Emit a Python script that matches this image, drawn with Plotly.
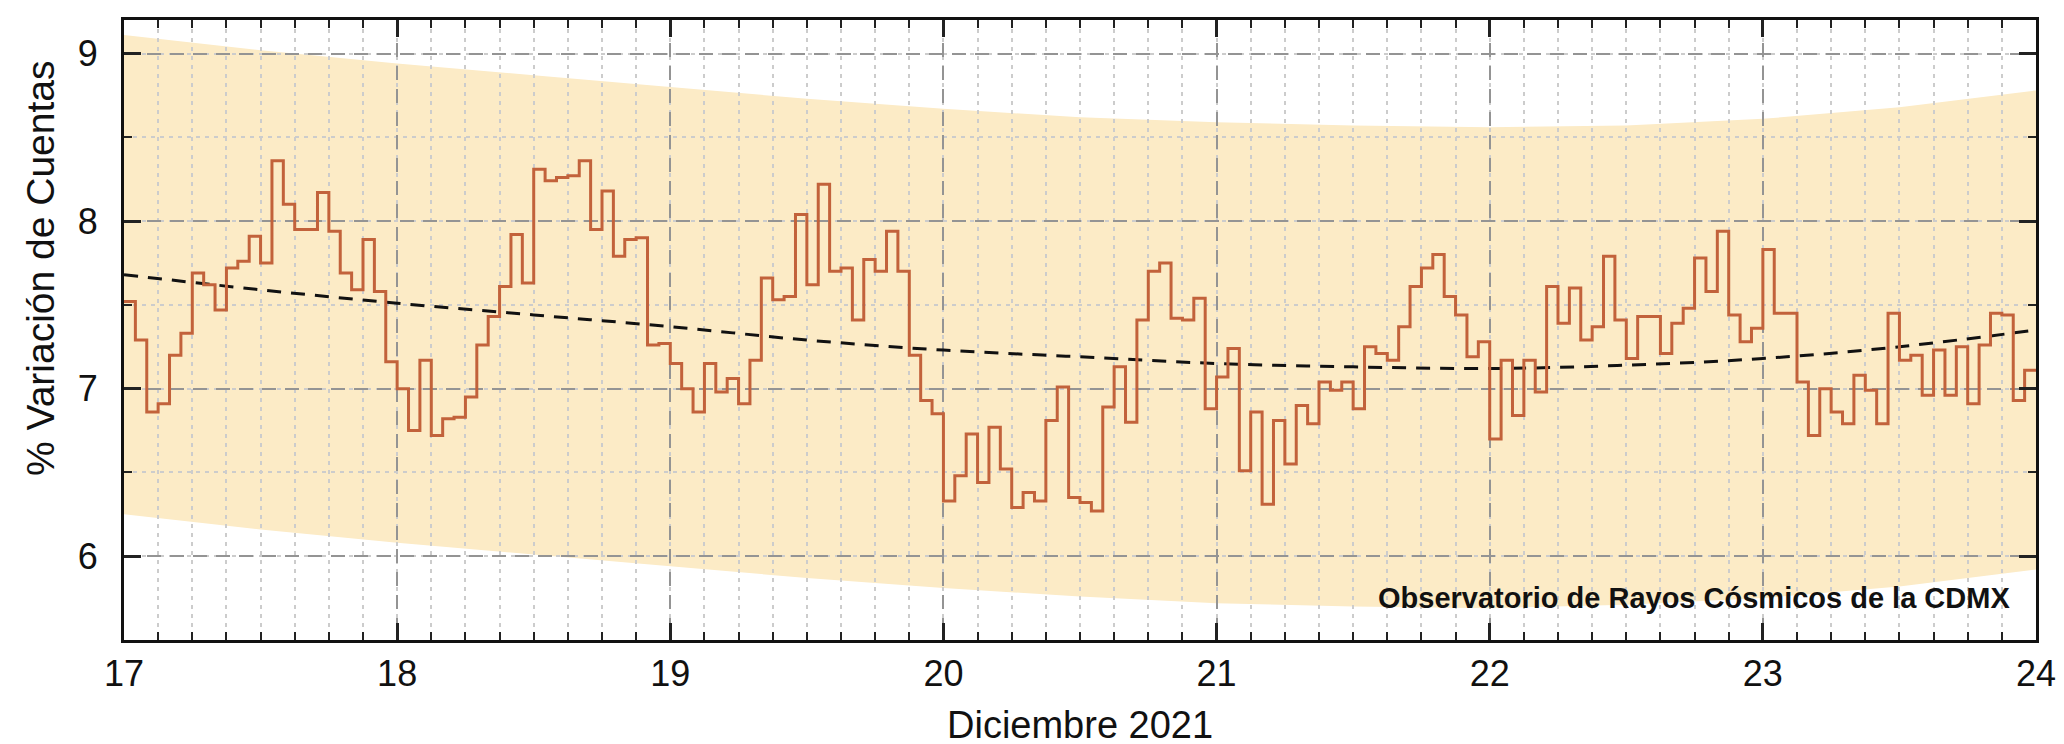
import plotly.graph_objects as go

# Hourly % variation of counts, 17-23 Dec 2021 (24 values per day)
day17 = [7.52, 7.29, 6.86, 6.91, 7.20, 7.33, 7.69, 7.62, 7.47, 7.72, 7.76, 7.91,
         7.75, 8.36, 8.10, 7.95, 7.95, 8.17, 7.94, 7.69, 7.59, 7.89, 7.58, 7.16]
day18 = [7.00, 6.75, 7.17, 6.72, 6.82, 6.83, 6.95, 7.26, 7.43, 7.61, 7.92, 7.63,
         8.31, 8.24, 8.26, 8.27, 8.36, 7.95, 8.18, 7.79, 7.89, 7.90, 7.26, 7.27]
day19 = [7.15, 7.00, 6.86, 7.15, 6.98, 7.06, 6.91, 7.17, 7.66, 7.53, 7.55, 8.04,
         7.62, 8.22, 7.70, 7.72, 7.41, 7.77, 7.70, 7.94, 7.70, 7.20, 6.93, 6.85]
day20 = [6.33, 6.48, 6.73, 6.44, 6.77, 6.52, 6.29, 6.38, 6.33, 6.81, 7.01, 6.35,
         6.32, 6.27, 6.89, 7.13, 6.80, 7.41, 7.70, 7.75, 7.42, 7.41, 7.54, 6.88]
day21 = [7.07, 7.24, 6.51, 6.86, 6.31, 6.81, 6.55, 6.90, 6.79, 7.04, 6.99, 7.04,
         6.88, 7.25, 7.21, 7.17, 7.37, 7.61, 7.72, 7.80, 7.55, 7.44, 7.19, 7.28]
day22 = [6.70, 7.17, 6.84, 7.17, 6.98, 7.61, 7.39, 7.60, 7.29, 7.37, 7.79, 7.41,
         7.18, 7.43, 7.43, 7.21, 7.39, 7.48, 7.78, 7.58, 7.94, 7.44, 7.28, 7.36]
day23 = [7.83, 7.45, 7.45, 7.04, 6.72, 7.00, 6.86, 6.79, 7.08, 6.99, 6.79, 7.45,
         7.17, 7.20, 6.96, 7.23, 6.96, 7.25, 6.91, 7.26, 7.45, 7.44, 6.93, 7.11]

# Trend (dashed) and band, read at half-day points
trend_days = [17.0, 17.5, 18.0, 18.5, 19.0, 19.5, 20.0, 20.5, 21.0, 21.5, 22.0, 22.5, 23.0, 23.5, 24.0]
trend_vals = [7.68, 7.59, 7.51, 7.44, 7.37, 7.29, 7.23, 7.19, 7.15, 7.13, 7.12, 7.14, 7.18, 7.25, 7.35]
band_upper = [9.11, 9.02, 8.94, 8.87, 8.80, 8.73, 8.67, 8.62, 8.59, 8.57, 8.56, 8.57, 8.61, 8.68, 8.78]
band_lower = [6.25, 6.16, 6.08, 6.01, 5.94, 5.87, 5.81, 5.76, 5.72, 5.70, 5.69, 5.71, 5.75, 5.82, 5.92]

x_ticks = [17, 18, 19, 20, 21, 22, 23, 24]
y_ticks = [6, 7, 8, 9]

values = day17 + day18 + day19 + day20 + day21 + day22 + day23
x_step = [17 + h / 24 for h in range(len(values) + 1)]
y_step = values + [values[-1]]

fig = go.Figure()

fig.add_trace(go.Scatter(x=trend_days, y=trend_vals, mode="lines",
                         line=dict(color="#111111", width=3, dash="14px,10px",
                                   shape="spline", smoothing=1.0),
                         hoverinfo="skip"))
fig.add_trace(go.Scatter(x=x_step, y=y_step, mode="lines",
                         line=dict(color="#C2623B", width=3, shape="hv")))

# band as a shape beneath gridlines
pts_up = [f"{a},{b}" for a, b in zip(trend_days, band_upper)]
pts_lo = [f"{a},{b}" for a, b in zip(trend_days[::-1], band_lower[::-1])]
path = "M " + " L ".join(pts_up + pts_lo) + " Z"
fig.add_shape(type="path", path=path, xref="x", yref="y", layer="below",
              fillcolor="#FCEBC6", line=dict(width=0))

font_family = "Liberation Sans, Arial, sans-serif"

fig.update_xaxes(range=[17, 24], tickvals=x_ticks, ticks="inside", ticklen=17,
                 tickwidth=3, tickcolor="#222222", showline=True, linewidth=3,
                 linecolor="#111111", mirror="allticks", showgrid=True,
                 gridcolor="#949494", gridwidth=2, griddash="14px,9px",
                 tickfont=dict(size=36, color="#111111", family=font_family),
                 ticklabelstandoff=0, zeroline=False,
                 minor=dict(dtick=0.125, tick0=17, ticks="inside", ticklen=8,
                            tickwidth=2, tickcolor="#222222", showgrid=True,
                            gridcolor="#cccccc", gridwidth=1.5, griddash="4px,5px"))
fig.update_yaxes(range=[5.5, 9.2], tickvals=y_ticks, ticks="inside", ticklen=17,
                 tickwidth=3, tickcolor="#222222", showline=True, linewidth=3,
                 linecolor="#111111", mirror="allticks", showgrid=True,
                 gridcolor="#949494", gridwidth=2, griddash="14px,9px",
                 tickfont=dict(size=36, color="#111111", family=font_family),
                 ticklabelstandoff=16, zeroline=False,
                 minor=dict(dtick=0.5, tick0=5.5, ticks="inside", ticklen=8,
                            tickwidth=2, tickcolor="#222222", showgrid=True,
                            gridcolor="#cccccc", gridwidth=1.5, griddash="4px,5px"))

fig.add_annotation(text="% Variación de Cuentas", xref="paper", yref="paper",
                   x=0, y=0.6, xanchor="center", yanchor="middle", xshift=-84,
                   textangle=-90, showarrow=False,
                   font=dict(size=39, color="#111111", family=font_family))
fig.add_annotation(text="Diciembre 2021", xref="paper", yref="paper",
                   x=0.5, y=0, xanchor="center", yanchor="middle", yshift=-85,
                   showarrow=False,
                   font=dict(size=38, color="#111111", family=font_family))
fig.add_annotation(text="<b>Observatorio de Rayos Cósmicos de la CDMX</b>",
                   xref="paper", yref="paper", x=1, y=0, xanchor="right",
                   yanchor="middle", xshift=-24, yshift=42, showarrow=False,
                   font=dict(size=29, color="#111111", family=font_family))

fig.update_layout(width=2064, height=744, margin=dict(l=116, r=36, t=9, b=112),
                  paper_bgcolor="white", plot_bgcolor="white", showlegend=False,
                  font=dict(family=font_family, color="#111111"))

fig.write_html("out.html")
